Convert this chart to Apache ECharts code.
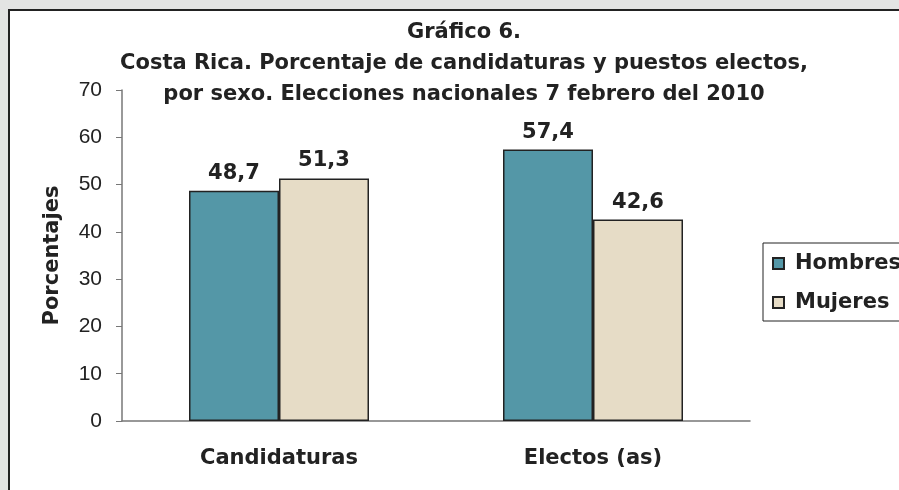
<!DOCTYPE html>
<html>
<head>
<meta charset="utf-8">
<script src="https://cdn.jsdelivr.net/npm/echarts@6/dist/echarts.min.js"></script>
<style>
  html, body { margin: 0; padding: 0; background: #e3e4e3; }
  #chart { width: 899px; height: 490px; }
</style>
</head>
<body>
<div id="chart"></div>
<script>
// datos del gráfico
const categorias = ['Candidaturas', 'Electos (as)'];
const hombres = [48.7, 57.4];
const mujeres = [51.3, 42.6];
const yTicks = [0, 10, 20, 30, 40, 50, 60, 70];

const boldFont = 'DejaVu Sans';
const chart = echarts.init(document.getElementById('chart'));

function etiqueta(p) {
  return String(p.value).replace('.', ',');
}

var option = {
  backgroundColor: '#e3e4e3',
  animation: false,
  graphic: [{
    type: 'rect',
    z: -10,
    silent: true,
    shape: { x: 9, y: 10, width: 920, height: 520 },
    style: { fill: '#ffffff', stroke: '#222222', lineWidth: 2 }
  }],
  title: {
    text: 'Gráfico 6.\nCosta Rica. Porcentaje de candidaturas y puestos electos,\npor sexo. Elecciones nacionales 7 febrero del 2010',
    left: 464,
    top: 17,
    padding: 0,
    textAlign: 'center',
    textStyle: {
      fontFamily: boldFont,
      fontWeight: 'bold',
      fontSize: 21,
      lineHeight: 31,
      color: '#222'
    }
  },
  legend: {
    orient: 'vertical',
    left: 763,
    top: 243,
    padding: [9, 40, 7, 9],
    itemGap: 16,
    itemWidth: 11,
    itemHeight: 11,
    borderColor: '#222',
    borderWidth: 1,
    icon: 'rect',
    textStyle: {
      fontFamily: boldFont,
      fontWeight: 'bold',
      fontSize: 21,
      lineHeight: 23,
      color: '#222',
      padding: [0, 0, 0, 6]
    },
    data: ['Hombres', 'Mujeres']
  },
  grid: { left: 122, right: 149, top: 90, bottom: 69 },
  xAxis: {
    type: 'category',
    data: categorias,
    axisLine: { lineStyle: { color: '#777', width: 1.5 } },
    axisTick: { length: 7, lineStyle: { color: '#444' } },
    axisLabel: {
      margin: 27,
      fontFamily: boldFont,
      fontWeight: 'bold',
      fontSize: 21,
      color: '#222'
    }
  },
  yAxis: {
    type: 'value',
    min: yTicks[0],
    max: yTicks[yTicks.length - 1],
    interval: 10,
    name: 'Porcentajes',
    nameLocation: 'middle',
    nameGap: 59,
    nameTextStyle: {
      fontFamily: boldFont,
      fontWeight: 'bold',
      fontSize: 21,
      color: '#222'
    },
    axisLine: { show: true, lineStyle: { color: '#777', width: 1.5 } },
    axisTick: { show: true, length: 6, lineStyle: { color: '#777' } },
    splitLine: { show: false },
    axisLabel: {
      margin: 20,
      fontFamily: 'Liberation Sans',
      fontSize: 21,
      color: '#222'
    }
  },
  series: [
    {
      name: 'Hombres',
      type: 'bar',
      data: hombres,
      barWidth: 90,
      barGap: '0%',
      itemStyle: { color: '#5497a7', borderColor: '#222', borderWidth: 1.5 },
      label: {
        show: true,
        position: 'top',
        distance: 7,
        formatter: etiqueta,
        fontFamily: boldFont,
        fontWeight: 'bold',
        fontSize: 21,
        color: '#222'
      }
    },
    {
      name: 'Mujeres',
      type: 'bar',
      data: mujeres,
      barWidth: 90,
      barGap: '0%',
      itemStyle: { color: '#e6dcc6', borderColor: '#222', borderWidth: 1.5 },
      label: {
        show: true,
        position: 'top',
        distance: 7,
        formatter: etiqueta,
        fontFamily: boldFont,
        fontWeight: 'bold',
        fontSize: 21,
        color: '#222'
      }
    }
  ]
};

chart.setOption(option);
</script>
</body>
</html>
